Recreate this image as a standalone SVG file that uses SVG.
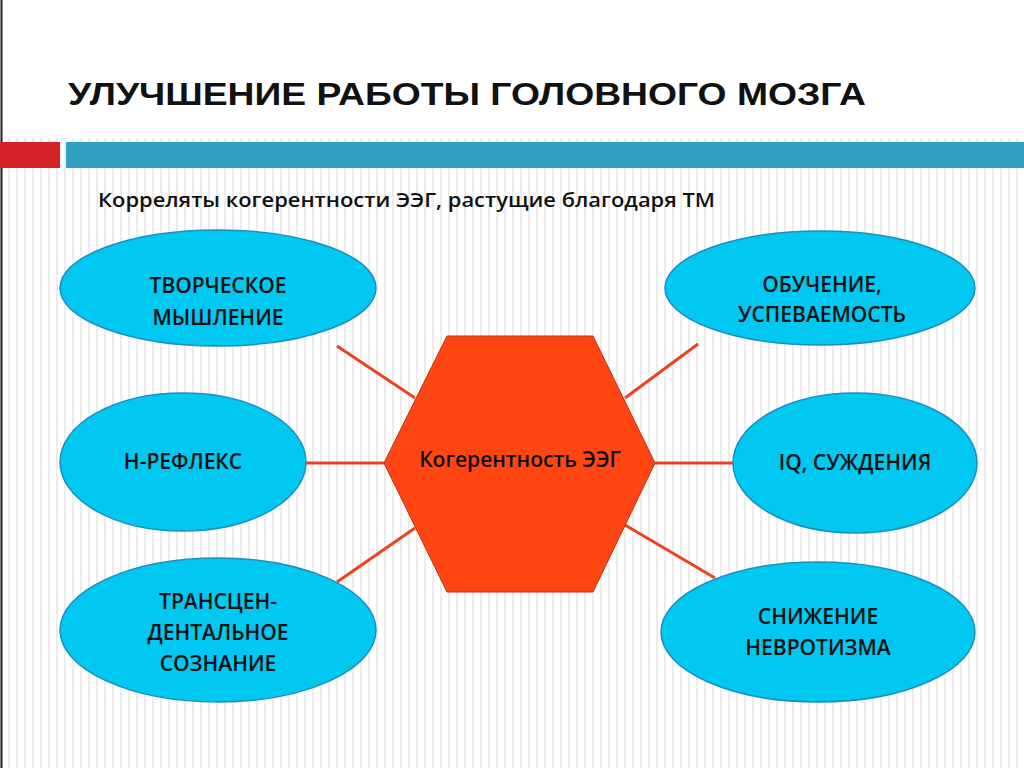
<svg xmlns="http://www.w3.org/2000/svg" width="1024" height="768" viewBox="0 0 1024 768">
<defs>
<pattern id="st" width="8" height="8" patternUnits="userSpaceOnUse"><rect width="8" height="8" fill="#fff"/><rect x="0" width="2" height="8" fill="#ececec"/></pattern>
</defs>
<style>
.e{fill:#00c8f0;stroke:#1a8fc0;stroke-width:1.5}
.t{font-family:"Open Sans","DejaVu Sans",sans-serif;font-weight:600;font-size:21px;fill:#111;text-anchor:middle}
.c line{stroke:#f04020;stroke-width:3}
</style>
<rect width="1024" height="768" fill="url(#st)"/>
<rect width="1024" height="138" fill="#fff"/>
<line x1="1.5" y1="0" x2="1.5" y2="768" stroke="#222" stroke-width="2"/>
<rect x="0" y="142" width="60" height="26" fill="#d42228"/>
<rect x="66" y="142" width="958" height="26" fill="#2fa0bf"/>
<text x="68" y="105" font-family="Liberation Sans,Arial,sans-serif" font-weight="bold" font-size="31" fill="#111" textLength="798" lengthAdjust="spacingAndGlyphs">УЛУЧШЕНИЕ РАБОТЫ ГОЛОВНОГО МОЗГА</text>
<text x="98" y="207" font-family="Open Sans,DejaVu Sans,sans-serif" font-weight="600" font-size="20" fill="#111" textLength="617" lengthAdjust="spacingAndGlyphs">Корреляты когерентности ЭЭГ, растущие благодаря ТМ</text>
<g class="c">
<line x1="337" y1="346" x2="415" y2="398"/>
<line x1="625" y1="398" x2="698" y2="344"/>
<line x1="306" y1="463" x2="384" y2="463"/>
<line x1="655" y1="463" x2="733" y2="463"/>
<line x1="415" y1="528" x2="337" y2="582"/>
<line x1="625" y1="525" x2="715" y2="578"/>
</g>
<g id="hex"><polygon points="447,336 593,336 655,463 593,592 447,592 384,463" fill="#ff4511" stroke="#c03010"/>
<text class="t" x="520" y="467" font-size="22">Когерентность ЭЭГ</text></g>
<g id="n1"><ellipse class="e" cx="218" cy="288" rx="158" ry="58"/><text class="t" x="218" y="293">ТВОРЧЕСКОЕ</text><text class="t" x="218" y="325">МЫШЛЕНИЕ</text></g>
<g id="n2"><ellipse class="e" cx="820" cy="288" rx="155" ry="57"/><text class="t" x="822" y="292">ОБУЧЕНИЕ,</text><text class="t" x="822" y="322">УСПЕВАЕМОСТЬ</text></g>
<g id="n3"><ellipse class="e" cx="183" cy="462" rx="123" ry="69"/><text class="t" x="183" y="469">Н-РЕФЛЕКС</text></g>
<g id="n4"><ellipse class="e" cx="855" cy="463" rx="122" ry="70"/><text class="t" x="855" y="470">IQ, СУЖДЕНИЯ</text></g>
<g id="n5"><ellipse class="e" cx="218" cy="630" rx="158" ry="72"/><text class="t" x="218" y="609">ТРАНСЦЕН-</text><text class="t" x="218" y="640">ДЕНТАЛЬНОЕ</text><text class="t" x="218" y="671">СОЗНАНИЕ</text></g>
<g id="n6"><ellipse class="e" cx="818" cy="632" rx="157" ry="70"/><text class="t" x="818" y="624">СНИЖЕНИЕ</text><text class="t" x="818" y="655">НЕВРОТИЗМА</text></g>
</svg>
